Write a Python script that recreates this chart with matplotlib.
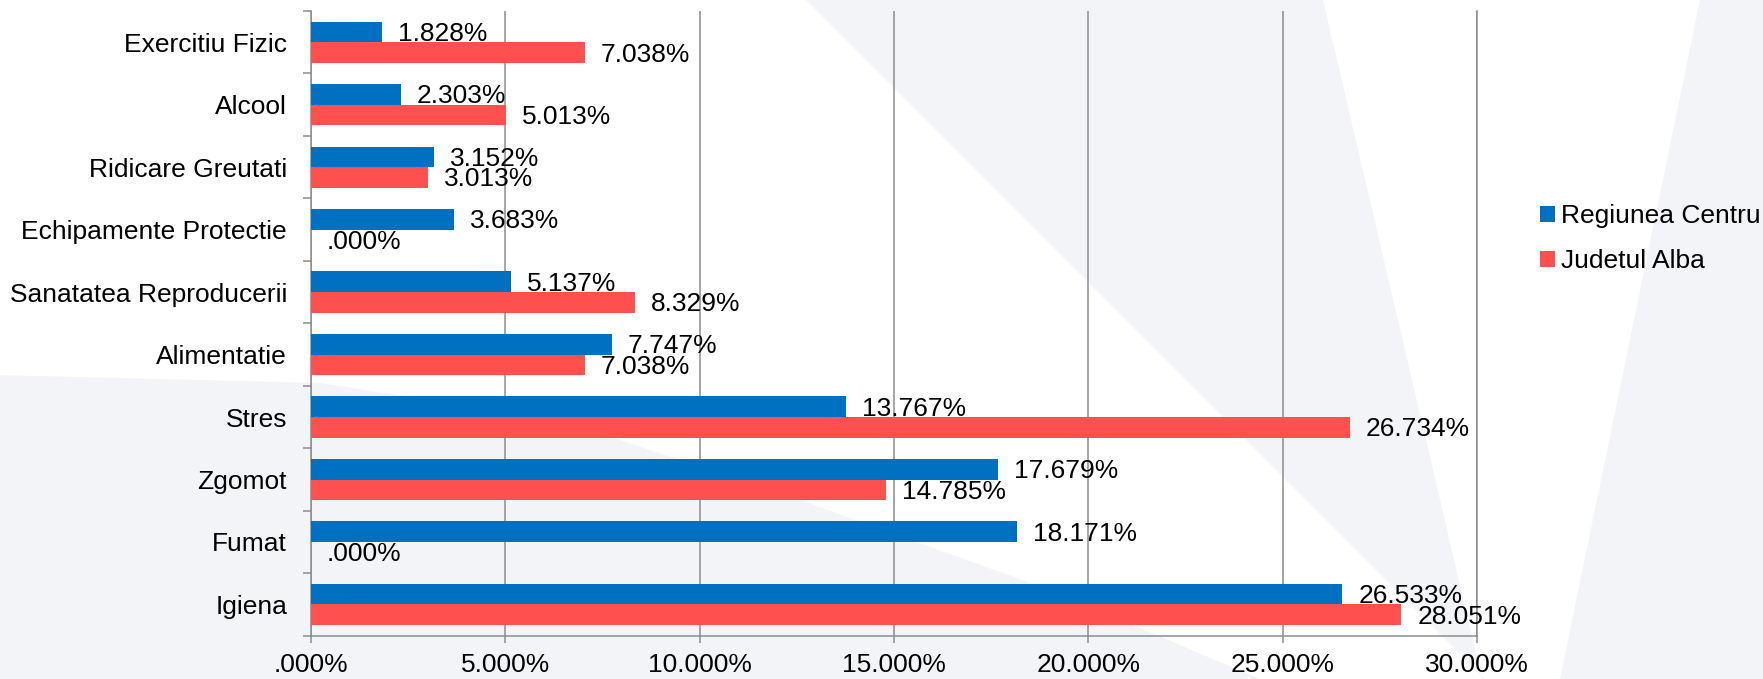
import matplotlib
matplotlib.use("Agg")
import matplotlib.pyplot as plt
from matplotlib.patches import Polygon, Patch
import numpy as np

# ---- data ----
categories = ["Exercitiu Fizic", "Alcool", "Ridicare Greutati", "Echipamente Protectie",
              "Sanatatea Reproducerii", "Alimentatie", "Stres", "Zgomot", "Fumat", "Igiena"]
regiunea_centru = [1.828, 2.303, 3.152, 3.683, 5.137, 7.747, 13.767, 17.679, 18.171, 26.533]
judetul_alba = [7.038, 5.013, 3.013, 0.0, 8.329, 7.038, 26.734, 14.785, 0.0, 28.051]
series_names = ["Regiunea Centru", "Judetul Alba"]
x_ticks = [0, 5, 10, 15, 20, 25, 30]

BLUE = "#0070C0"
RED = "#FF5050"
GRID = "#8a8a8a"
BG = "#f3f4f8"

W, H = 1763, 679
DPI = 100
FS = 19

plt.rcParams["font.family"] = ["Liberation Sans", "DejaVu Sans"]

fig = plt.figure(figsize=(W / DPI, H / DPI), dpi=DPI)
fig.patch.set_facecolor("white")


def P(pts):
    return [(x / W, 1 - y / H) for x, y in pts]


# faint background watermark shapes
for pts in [
    [(0, 375), (320, 383), (560, 420), (800, 500), (1050, 590), (1260, 679), (0, 679)],
    [(806, 0), (1323, 0), (1482, 679), (1485, 679)],
    [(1700, 0), (W, 0), (W, H), (1560, H)],
]:
    fig.add_artist(Polygon(P(pts), closed=True, transform=fig.transFigure,
                           facecolor=BG, edgecolor="none", zorder=-10))

ax = fig.add_axes([311 / W, 1 - 635.7 / H, (1477 - 311) / W, (635.7 - 11) / H])
ax.set_facecolor("none")

y = np.arange(len(categories))
h = 0.33
ax.barh(y - h / 2, regiunea_centru, height=h, color=BLUE, label=series_names[0], zorder=3)
ax.barh(y + h / 2, judetul_alba, height=h, color=RED, label=series_names[1], zorder=3)


def fmt(v):
    s = f"{v:.3f}%"
    if s.startswith("0."):
        s = s[1:]
    return s


px = 72 / DPI  # points per pixel
for yi, v in zip(y - h / 2, regiunea_centru):
    ax.annotate(fmt(v), (v, yi), xytext=(16 * px, -2 * px), textcoords="offset points",
                ha="left", va="center", fontsize=FS, color="black", zorder=5)
for yi, v in zip(y + h / 2, judetul_alba):
    ax.annotate(fmt(v), (v, yi), xytext=(16 * px, -2 * px), textcoords="offset points",
                ha="left", va="center", fontsize=FS, color="black", zorder=5)

ax.set_xlim(0, 30)
ax.set_ylim(len(categories) - 0.5, -0.5)
ax.set_xticks(x_ticks)
ax.set_xticklabels([fmt(t) for t in x_ticks], fontsize=FS)
ax.set_yticks(np.arange(len(categories)))
ax.set_yticklabels(categories, fontsize=FS)
ax.set_yticks(np.arange(len(categories) + 1) - 0.5, minor=True)

ax.tick_params(axis="y", which="major", length=0, pad=24 * px)
ax.tick_params(axis="y", which="minor", length=8 * px, width=1.5 * px, color=GRID)
ax.tick_params(axis="x", length=7 * px, width=1.5 * px, color=GRID, pad=10 * px)

ax.grid(axis="x", color=GRID, linewidth=1.5 * px, zorder=1)
ax.set_axisbelow(True)
for s in ["left", "bottom", "right"]:
    ax.spines[s].set_color(GRID)
    ax.spines[s].set_linewidth(1.5 * px)
ax.spines["top"].set_visible(False)

handles = [Patch(facecolor=BLUE), Patch(facecolor=RED)]
fig.legend(handles, series_names, loc="center left",
           bbox_to_anchor=(1540 / W, 1 - 238.75 / H), frameon=False,
           fontsize=FS, handlelength=0.55, handleheight=0.55, handletextpad=0.25,
           labelspacing=0.8, borderpad=0, borderaxespad=0)

fig.savefig("out.png", dpi=DPI, facecolor=fig.get_facecolor())
